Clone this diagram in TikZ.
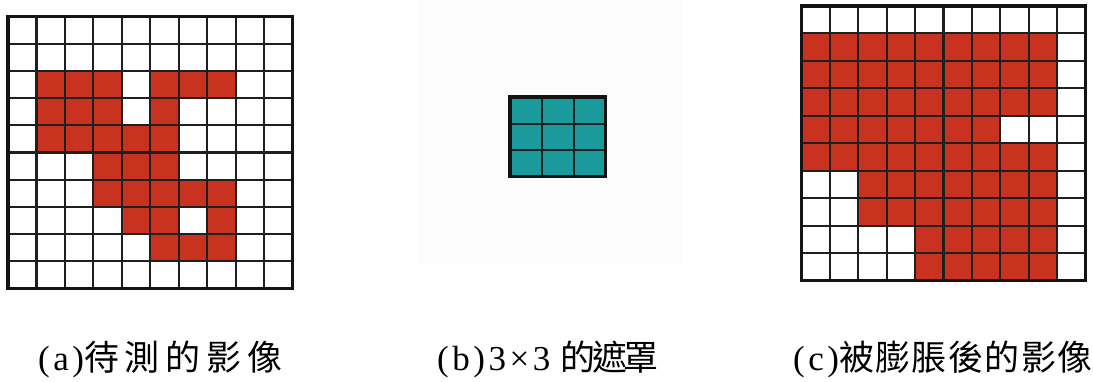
\documentclass[tikz,border=0pt]{standalone}
\usepackage{fontspec}
\newfontfamily\cjk[LetterSpace=4]{Noto Sans CJK TC}
\newfontfamily\cjkw[LetterSpace=17]{Noto Sans CJK TC}
\newfontfamily\cjkn[LetterSpace=-10]{Noto Sans CJK TC}
\newfontfamily\lat[LetterSpace=10]{Liberation Serif}
\definecolor{cellred}{RGB}{200,50,30}
\definecolor{cellteal}{RGB}{26,154,154}
\definecolor{panelbg}{RGB}{252,252,252}
\tikzset{
  gridline/.style={line width=2.1pt, draw=black!88},
  border/.style={line width=3.4pt, draw=black!92},
  lbl/.style={anchor=base west, inner sep=0pt, font=\fontsize{35}{38}\selectfont},
}
\newcommand\mkgrid[2]{% #1 cols, #2 rows
  \foreach \i in {1,...,\numexpr#1-1\relax} \draw[gridline] (\i,0) -- (\i,#2);
  \foreach \j in {1,...,\numexpr#2-1\relax} \draw[gridline] (0,\j) -- (#1,\j);
  \draw[border] (0,0) rectangle (#1,#2);
}
\begin{document}
\begin{tikzpicture}[x=1pt,y=-1pt]
\useasboundingbox (0,0) rectangle (1093,382);
\fill[white] (0,0) rectangle (1093,382);
\fill[panelbg] (418,0) rectangle (682,263);
% (a)
\begin{scope}[shift={(8pt,-16.5pt)}, x=28.45pt, y=-27.2pt]
  \foreach \r/\cs in {2/{1,2,3,5,6,7}, 3/{1,2,3,5}, 4/{1,2,3,4,5}, 5/{3,4,5}, 6/{3,4,5,6,7}, 7/{4,5,7}, 8/{5,6,7}}
    \foreach \c in \cs \fill[cellred] (\c,\r) rectangle ++(1,1);
  \mkgrid{10}{10}
\end{scope}
% (b)
\begin{scope}[shift={(510pt,-97pt)}, x=31.8pt, y=-26.6pt]
  \fill[cellteal] (0,0) rectangle (3,3);
  \mkgrid{3}{3}
\end{scope}
% (c)
\begin{scope}[shift={(801.5pt,-6pt)}, x=28.4pt, y=-27.45pt]
  \foreach \r/\cs in {1/{0,...,8}, 2/{0,...,8}, 3/{0,...,8}, 4/{0,...,6}, 5/{0,...,8}, 6/{2,...,8}, 7/{2,...,8}, 8/{4,...,8}, 9/{4,...,8}}
    \foreach \c in \cs \fill[cellred] (\c,\r) rectangle ++(1,1);
  \mkgrid{10}{10}
\end{scope}
% labels
\node[lbl] (la) at (38,370) {{\lat (a)}{\cjkw 待測的影像}};
\node[lbl] (lb) at (437,370) {{\lat (b)3×3} {\cjkn 的遮罩}};
\node[lbl] (lc) at (793,370) {{\lat (c)}{\cjk 被膨脹後的影像}};
\end{tikzpicture}
\end{document}
